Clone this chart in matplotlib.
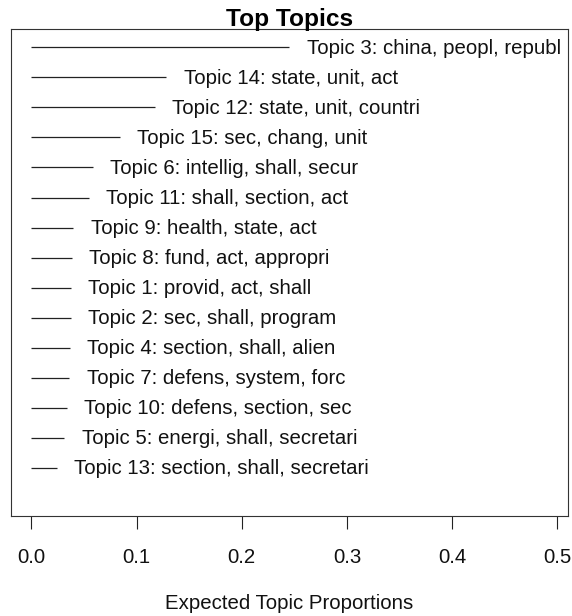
import matplotlib
matplotlib.use("Agg")
import matplotlib.pyplot as plt

# Data (top to bottom as displayed)
topics = [3, 14, 12, 15, 6, 11, 9, 8, 1, 2, 4, 7, 10, 5, 13]
words = [
    "china, peopl, republ",
    "state, unit, act",
    "state, unit, countri",
    "sec, chang, unit",
    "intellig, shall, secur",
    "shall, section, act",
    "health, state, act",
    "fund, act, appropri",
    "provid, act, shall",
    "sec, shall, program",
    "section, shall, alien",
    "defens, system, forc",
    "defens, section, sec",
    "energi, shall, secretari",
    "section, shall, secretari",
]
proportions = [0.245, 0.1283, 0.1174, 0.0843, 0.0583, 0.0545, 0.0399, 0.0386,
               0.0376, 0.0373, 0.0364, 0.0361, 0.0335, 0.0313, 0.0240]
xticks = [0.0, 0.1, 0.2, 0.3, 0.4, 0.5]
tick_labels = ["0.0", "0.1", "0.2", "0.3", "0.4", "0.5"]

plt.rcParams['font.family'] = ['Liberation Sans', 'DejaVu Sans']

W, H = 572, 616
fig = plt.figure(figsize=(W / 100, H / 100), dpi=100)
ax = fig.add_axes([10.7 / W, (H - 516) / H, 556.8 / W, (516 - 29.3) / H])

K = len(topics)
ys = list(range(K, 0, -1))
for t, w, p, y in zip(topics, words, proportions, ys):
    ax.plot([0, p], [y, y], color='#222222', lw=0.9, solid_capstyle='butt')
    ax.annotate(f"Topic {t}: {w}", xy=(p + 0.01, y), xytext=(5.0, -4.5),
                textcoords='offset points', ha='left', va='baseline',
                fontsize=14.7, color='#111111', annotation_clip=False)

xmax = 2 * max(proportions)
pad = 0.04 * xmax
ax.set_xlim(-pad, xmax + pad)
ax.set_ylim(-0.04 * K, K + 0.04 * K)

ax.set_xticks(xticks)
ax.set_xticklabels(tick_labels, fontsize=14.7, color='#111111')
ax.set_yticks([])
ax.tick_params(axis='x', direction='out', length=9.6, width=0.8, pad=13.5, color='#222222')
for s in ax.spines.values():
    s.set_linewidth(0.8)
    s.set_color('#333333')

fig.text((10.7 + 567.5) / 2 / W, (H - 26) / H, "Top Topics", ha='center', va='baseline',
         fontsize=17.6, fontweight='bold', color='#000000')
fig.text((10.7 + 567.5) / 2 / W, (H - 609.3) / H, "Expected Topic Proportions",
         ha='center', va='baseline', fontsize=14.7, color='#111111')

fig.savefig("out.png", dpi=100)
